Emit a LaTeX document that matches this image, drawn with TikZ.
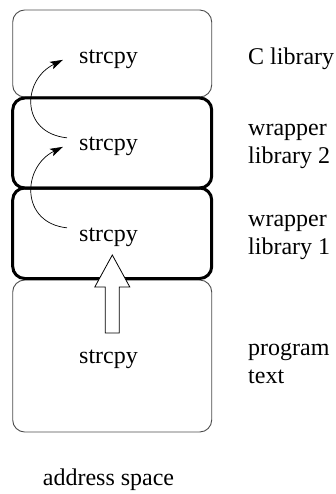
\documentclass[tikz,border=0pt]{standalone}
\usepackage{fontspec}
\newfontfamily\tms{Liberation Serif}
\usetikzlibrary{arrows.meta}
\begin{document}
\begin{tikzpicture}[x=1pt,y=-1pt,
  thinbox/.style={draw=black!70, line width=0.9pt, rounded corners=12pt, inner sep=0pt},
  thickbox/.style={draw=black, line width=3pt, rounded corners=12pt, inner sep=0pt},
  txt/.style={font=\tms\fontsize{24}{28}\selectfont},
  fn/.style={txt, inner xsep=12pt, inner ysep=0pt, anchor=base},
  lbl/.style={txt, align=left, anchor=base west, inner sep=0pt},
  callarrow/.style={-{Stealth[length=13pt,width=8pt,inset=3pt]}, line width=0.7pt},
  blockarrow/.style={draw=black, line width=0.8pt, fill=white}
]
\useasboundingbox (0,0) rectangle (336,494);
% boxes
\node[thinbox, minimum width=199pt, minimum height=87pt] (b1) at (112.2,53.5) {};
\node[thinbox, minimum width=199pt, minimum height=152pt] (b4) at (112.2,356) {};
\node[thickbox, minimum width=199pt, minimum height=90pt] (b2) at (112.2,143) {};
\node[thickbox, minimum width=199pt, minimum height=90.5pt] (b3) at (112.2,233.25) {};
% function names
\node[fn] (s1) at (108.5,64) {strcpy};
\node[fn] (s2) at (108.5,151) {strcpy};
\node[fn] (s3) at (108.5,241) {strcpy};
\node[fn] (s4) at (108.5,363) {strcpy};
% labels (base anchor = last line)
\node[lbl] (l1) at (248,65) {C library};
\node[lbl] (l2) at (248,164) {wrapper\\library 2};
\node[lbl] (l3) at (248,254) {wrapper\\library 1};
\node[lbl] (l4) at (248,383) {program\\text};
\node[txt, anchor=base] (as) at (108.5,485) {address space};
% call arrows
\draw[callarrow] ([yshift=9pt]s2.west) .. controls +(-47,-5) and +(-41,20) .. ([xshift=-4pt]s1.west);
\draw[callarrow] ([yshift=9pt]s3.west) .. controls +(-47,-5) and +(-41,20) .. ([xshift=-4pt]s2.west);
% block arrow
\coordinate (tip) at (112.3,255);
\draw[blockarrow] (tip) -- ++(17.5,32) -- ++(-10.5,0) -- ++(0,46) -- ++(-14,0) -- ++(0,-46) -- ++(-10.5,0) -- cycle;
\end{tikzpicture}
\end{document}
